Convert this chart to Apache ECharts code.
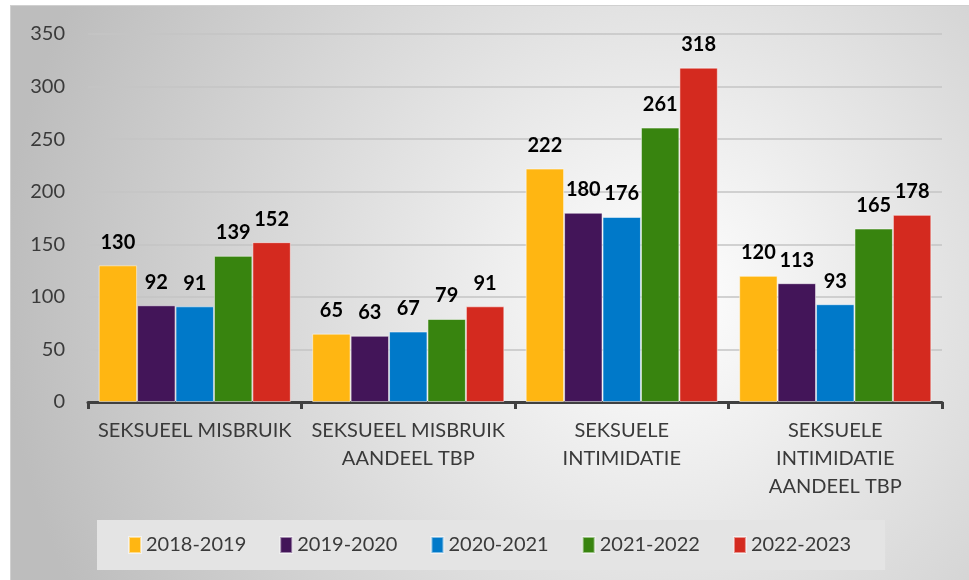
<!DOCTYPE html>
<html lang="nl">
<head>
    <meta charset="UTF-8">
    <title>Seksueel misbruik en intimidatie</title>
    <script src="https://cdn.jsdelivr.net/npm/echarts@6/dist/echarts.min.js"></script>
    <style>
        *{
            margin: 0;
            padding: 0;
        }
        body{
            background: #fff;
        }
        #box{
            position: absolute;
            left: 10px;
            top: 5px;
            width: 959px;
            height: 575px;
            border-top: 1px solid #d0d0d0;
            border-left: 1px solid #d0d0d0;
        }
    </style>
</head>
<body>
<div id="box"></div>
<script type="text/javascript">
    // categorieën en schooljaren
    let categories = ['SEKSUEEL MISBRUIK', 'SEKSUEEL MISBRUIK\nAANDEEL TBP', 'SEKSUELE\nINTIMIDATIE', 'SEKSUELE\nINTIMIDATIE\nAANDEEL TBP'];
    let years = ['2018-2019', '2019-2020', '2020-2021', '2021-2022', '2022-2023'];
    let colors = ['#ffb612', '#431559', '#0079c9', '#38840f', '#d42a1f'];
    // waarden per schooljaar
    let y2018 = [130, 65, 222, 120];
    let y2019 = [92, 63, 180, 113];
    let y2020 = [91, 67, 176, 93];
    let y2021 = [139, 79, 261, 165];
    let y2022 = [152, 91, 318, 178];
    let values = [y2018, y2019, y2020, y2021, y2022];

    let font = 'Lato, "Open Sans", sans-serif';
    let chart = echarts.init(document.getElementById('box'));

    let series = years.map((name, i) => ({
        name: name,
        type: 'bar',
        data: values[i],
        barGap: '0%',
        barCategoryGap: '10%',
        itemStyle: {
            color: colors[i],
            borderColor: 'rgba(255,255,255,0.5)',
            borderWidth: 1
        },
        label: {
            show: true,
            position: 'top',
            distance: 13,
            color: '#000',
            fontFamily: font,
            fontWeight: 'bold',
            fontSize: 20
        }
    }));

    let option = {
        backgroundColor: {
            type: 'radial',
            x: 0.68,
            y: 0.5,
            r: 1.15,
            colorStops: [
                {offset: 0, color: '#ffffff'},
                {offset: 1, color: '#bdbdbd'}
            ]
        },
        animation: false,
        legend: {
            data: years,
            left: 86,
            top: 514,
            padding: [15, 34, 15, 31],
            backgroundColor: '#e4e4e4',
            itemWidth: 12,
            itemHeight: 16,
            itemGap: 33,
            icon: 'rect',
            textStyle: {
                color: '#3a3a3a',
                fontFamily: font,
                fontSize: 20
            }
        },
        grid: {
            left: 77,
            right: 28,
            top: 28,
            bottom: 179
        },
        xAxis: {
            type: 'category',
            data: categories,
            axisLine: {
                lineStyle: {color: '#404040', width: 3}
            },
            axisTick: {
                show: true,
                length: 7,
                lineStyle: {color: '#404040', width: 3}
            },
            axisLabel: {
                color: '#3a3a3a',
                fontFamily: font,
                fontSize: 20,
                lineHeight: 28,
                margin: 15,
                interval: 0
            }
        },
        yAxis: {
            type: 'value',
            min: 0,
            max: 350,
            interval: 50,
            axisLine: {show: false},
            axisTick: {show: false},
            splitLine: {
                lineStyle: {color: '#c4c4c4', width: 1.5}
            },
            axisLabel: {
                color: '#3a3a3a',
                fontFamily: font,
                fontSize: 20,
                margin: 23
            }
        },
        series
    };
    chart.setOption(option);
</script>
</body>
</html>
